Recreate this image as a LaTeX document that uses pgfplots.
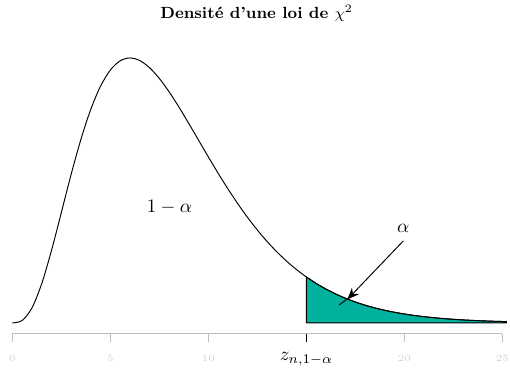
\documentclass[border=0pt]{standalone}
\usepackage{pgfplots}
\pgfplotsset{compat=1.18}
\usetikzlibrary{arrows.meta}
\definecolor{tealfill}{RGB}{0,178,158}
\definecolor{axgray}{RGB}{190,190,190}
\definecolor{lblgray}{RGB}{212,212,212}

\pgfplotstableread{
x y
0 0
0.5 0.001014
1 0.006318
1.5 0.016607
2 0.030657
2.5 0.046631
3 0.062755
3.5 0.077608
4 0.090226
4.5 0.10005
5 0.10688
5.5 0.11079
6 0.11202
6.5 0.11092
7 0.10789
7.5 0.10335
8 0.09768
8.5 0.09125
9 0.08436
9.5 0.07727
10 0.07019
10.5 0.063277
11 0.05666
11.5 0.050423
12 0.04462
12.5 0.039276
13 0.03441
13.5 0.030009
14 0.02606
14.5 0.022553
15 0.01944
15.5 0.016708
16 0.01431
16.5 0.012225
17 0.01041
17.5 0.008846
18 0.007497
18.5 0.006339
19 0.005348
19.5 0.004503
20 0.003783
20.5 0.003173
21 0.002656
21.5 0.002220
22 0.001852
22.5 0.001543
23 0.001284
23.5 0.001067
24 0.000885
24.5 0.000733
25 0.000607
25.2 0.000562
}\density

\pgfplotstableread{
x y
15 0
15 0.01944
15.5 0.016708
16 0.01431
16.5 0.012225
17 0.01041
17.5 0.008846
18 0.007497
18.5 0.006339
19 0.005348
19.5 0.004503
20 0.003783
20.5 0.003173
21 0.002656
21.5 0.002220
22 0.001852
22.5 0.001543
23 0.001284
23.5 0.001067
24 0.000885
24.5 0.000733
25 0.000607
25.2 0.000562
25.2 0
15 0
}\tail

\begin{document}
\begin{tikzpicture}
\begin{axis}[
  x=10.29pt, y=1242pt,
  xmin=0, xmax=25, ymin=-0.00465, ymax=0.12,
  axis x line=bottom, axis y line=none,
  axis line style={-, draw=axgray, line width=0.5pt},
  clip=false,
  xtick={0,5,10,20,25},
  extra x ticks={15},
  extra x tick labels={$z_{n,1-\alpha}$},
  extra x tick style={major tick style={black, line width=0.8pt}, xticklabel style={text=black, font=\normalsize, yshift=0.8pt}},
  tick align=outside, major tick length=4.2pt,
  major tick style={axgray, line width=0.5pt},
  xticklabel style={font=\fontsize{4}{5}\selectfont, text=lblgray, anchor=base, yshift=-10.4pt},
]
\addplot[draw=black, fill=tealfill, line width=0.5pt] table[x=x,y=y] {\tail};
\addplot[black, line width=0.5pt, smooth] table[x=x,y=y] {\density};
\draw[line width=0.5pt, -{Stealth[length=6pt,width=5pt]}] (axis cs:19.95,0.0347) -- (axis cs:17.1,0.0100);
\draw[line width=0.5pt] (axis cs:17.2,0.0108) -- (axis cs:16.67,0.0076);
\node at (axis cs:8.02,0.049) {$1-\alpha$};
\node at (axis cs:19.95,0.0399) {$\alpha$};
\node[font=\fontsize{8.5}{10}\selectfont\bfseries] at (axis cs:12.46,0.1309) {Densité d'une loi de $\chi^2$};
\coordinate (BL) at (axis cs:-0.628,-0.019);
\coordinate (TR) at (axis cs:25.39,0.1365);
\end{axis}
\pgfresetboundingbox
\path[use as bounding box] (BL) rectangle (TR);
\end{tikzpicture}
\end{document}
